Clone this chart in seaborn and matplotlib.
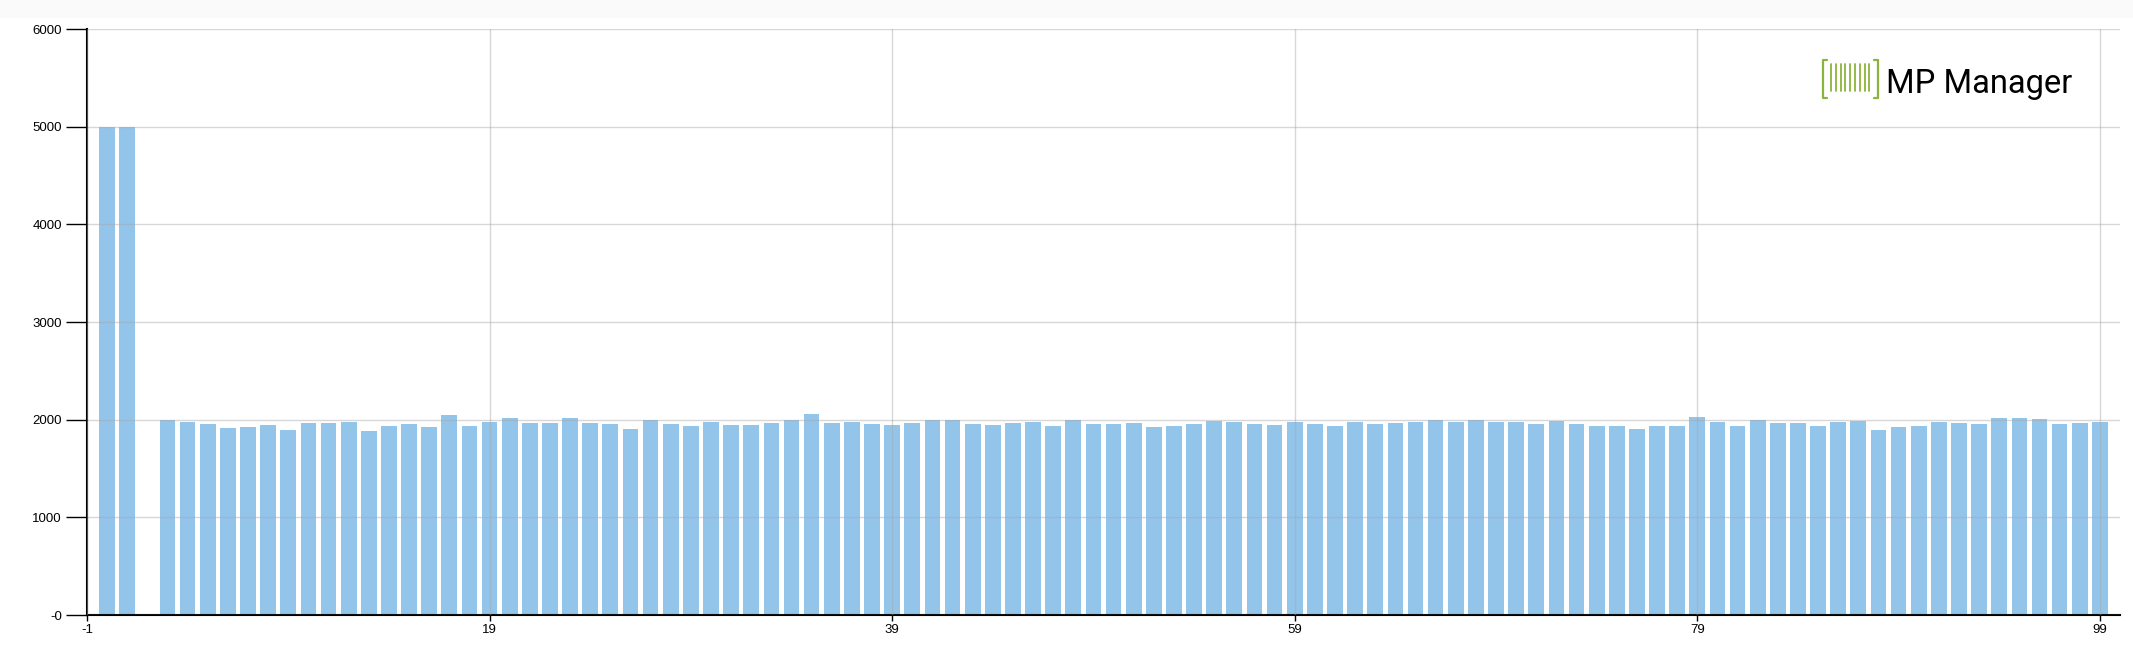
import matplotlib
matplotlib.use("Agg")
import matplotlib.pyplot as plt
import seaborn as sns
import pandas as pd
from matplotlib.lines import Line2D
from matplotlib.patches import Rectangle

# bar positions 0..99 (position 2 is empty)
positions = list(range(100))
counts = [
    5000, 5000, 0, 2000, 1973, 1952, 1911, 1922, 1942, 1891,
    1962, 1962, 1973, 1881, 1932, 1952, 1922, 2044, 1932, 1973,
    2014, 1962, 1962, 2014, 1962, 1952, 1901, 2000, 1952, 1932,
    1973, 1942, 1942, 1962, 2000, 2055, 1962, 1973, 1952, 1942,
    1962, 2000, 2000, 1952, 1942, 1962, 1973, 1932, 2000, 1952,
    1952, 1962, 1922, 1932, 1952, 1983, 1973, 1952, 1942, 1973,
    1952, 1932, 1973, 1952, 1962, 1973, 1993, 1973, 1993, 1973,
    1973, 1952, 1983, 1952, 1932, 1932, 1901, 1932, 1932, 2024,
    1973, 1932, 1993, 1962, 1962, 1932, 1973, 1983, 1891, 1922,
    1932, 1973, 1962, 1952, 2014, 2014, 2003, 1952, 1962, 1973,
]
x_ticks = [-1, 19, 39, 59, 79, 99]
y_ticks = [0, 1000, 2000, 3000, 4000, 5000, 6000]
y_tick_labels = ['-0', '1000', '2000', '3000', '4000', '5000', '6000']

df = pd.DataFrame({'pos': positions, 'count': counts})

sns.set_style("white")
plt.rcParams['font.family'] = ['Liberation Sans', 'DejaVu Sans']

W, H = 2133, 647
fig = plt.figure(figsize=(W / 100, H / 100), dpi=100)
# faint grey strip along the top
fig.add_artist(Rectangle((0, 1 - 18 / H), 1, 18 / H, transform=fig.transFigure,
                         facecolor='#fafafa', edgecolor='none', zorder=0))

ax = fig.add_axes([87 / W, 1 - 615 / H, (2120 - 87) / W, (615 - 29) / H])

sns.barplot(data=df, x='pos', y='count', native_scale=True, color='#93c4ea',
            saturation=1, width=0.78, linewidth=0, ax=ax)

ax.set_xlim(-1, 100)
ax.set_ylim(0, 6000)
ax.set_xticks(x_ticks)
ax.set_xticklabels([str(t) for t in x_ticks])
ax.set_yticks(y_ticks)
ax.set_yticklabels(y_tick_labels)
ax.set_xlabel('')
ax.set_ylabel('')

ax.grid(True, color='#a8a8a8', alpha=0.45, linewidth=1)
ax.set_axisbelow(False)

for side in ['top', 'right']:
    ax.spines[side].set_visible(False)
for side in ['left', 'bottom']:
    ax.spines[side].set_color('black')
    ax.spines[side].set_linewidth(1.5)

ax.tick_params(axis='y', direction='out', length=15, width=1, colors='black',
               labelsize=9.5, pad=3, left=True)
ax.tick_params(axis='x', direction='out', length=4.5, width=1, colors='black',
               labelsize=9.5, pad=2, bottom=True)

# logo in the upper right
green = '#8cb43c'
def px(x, y):
    return x / W, 1 - y / H

for xs, ys in [
    ([1827, 1823, 1823, 1827], [60, 60, 98, 98]),
    ([1874, 1878, 1878, 1874], [60, 60, 98, 98]),
]:
    fx = [px(a, 0)[0] for a in xs]
    fy = [px(0, b)[1] for b in ys]
    fig.add_artist(Line2D(fx, fy, transform=fig.transFigure, color=green, lw=1.6))
for i in range(9):
    xb = 1831 + i * 4.8
    fig.add_artist(Line2D([px(xb, 0)[0]] * 2, [px(0, 64)[1], px(0, 91)[1]],
                          transform=fig.transFigure, color=green, lw=1.3))
fig.text(1886 / W, 1 - 93 / H, 'MP Manager', fontsize=23.5, family=['Roboto', 'DejaVu Sans'],
         color='black', ha='left', va='baseline')

fig.savefig('out.png', dpi=100)
